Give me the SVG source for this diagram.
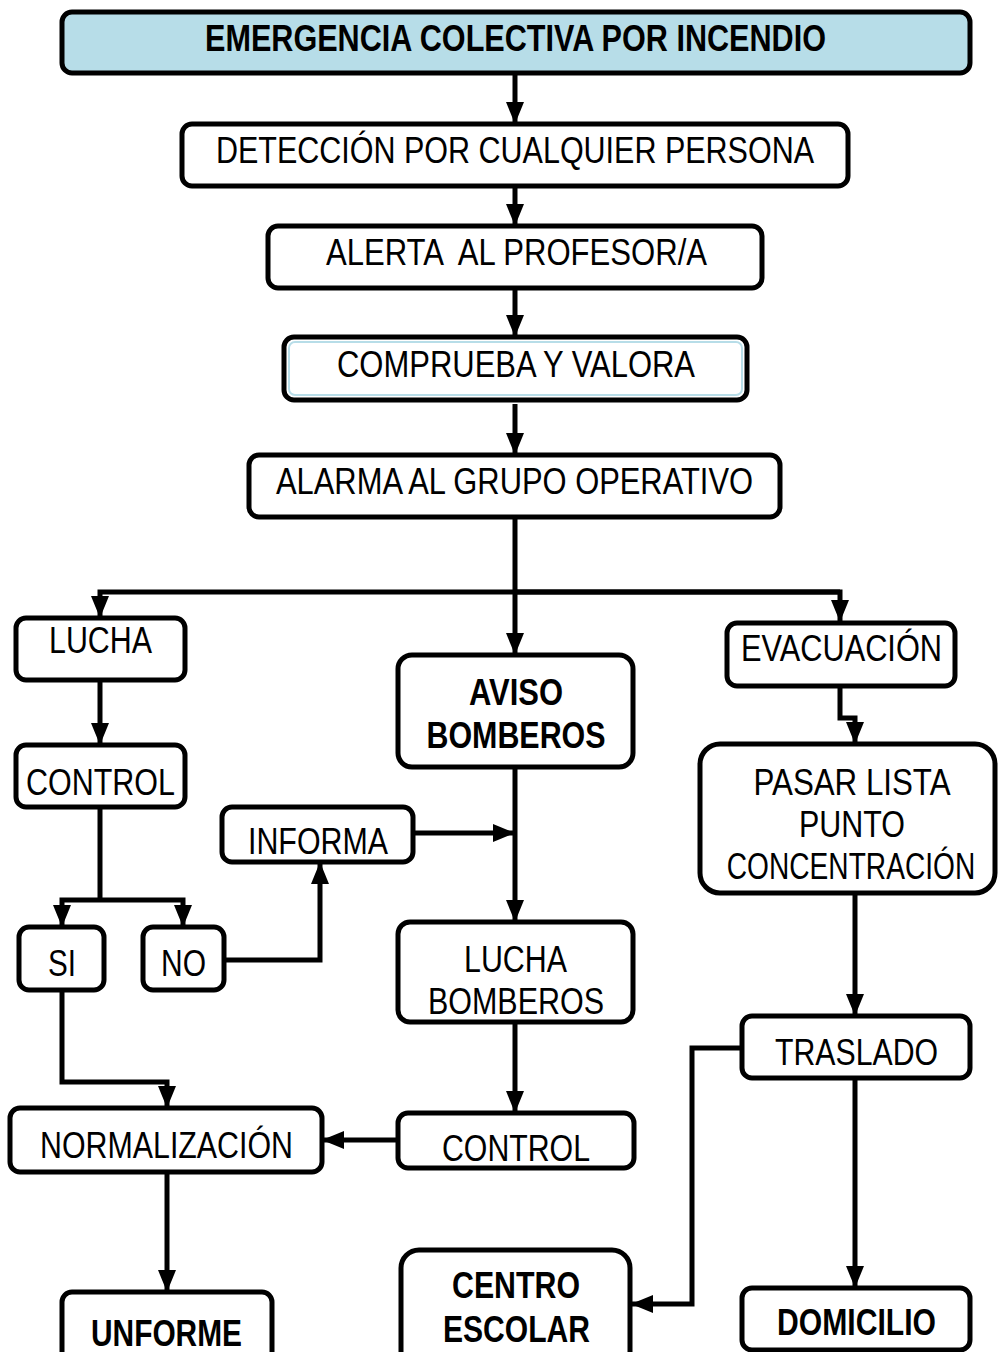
<svg xmlns="http://www.w3.org/2000/svg" width="998" height="1352" viewBox="0 0 998 1352">
<style>
.box{fill:#fff;stroke:#000;stroke-width:5}
.t{font-family:"Liberation Sans Narrow","Liberation Sans",Arial,sans-serif;font-size:37px;fill:#000;text-anchor:middle}
.b{font-weight:bold;font-size:36px}
.ln{fill:none;stroke:#000;stroke-width:5}
</style>
<defs>
<marker id="ah" viewBox="0 0 22 18" refX="22" refY="9" markerWidth="22" markerHeight="18" markerUnits="userSpaceOnUse" orient="auto">
<path d="M0,0 L22,9 L0,18 z" fill="#000"/>
</marker>
</defs>
<rect width="998" height="1352" fill="#fff"/>
<g id="connectors">
<path class="ln" d="M515,73 V124" marker-end="url(#ah)"/>
<path class="ln" d="M515,186 V226" marker-end="url(#ah)"/>
<path class="ln" d="M515,288 V337" marker-end="url(#ah)"/>
<path class="ln" d="M515,404 V455" marker-end="url(#ah)"/>
<path class="ln" d="M515,517 V655" marker-end="url(#ah)"/>
<path class="ln" d="M840,592 H100 V618" marker-end="url(#ah)"/>
<path class="ln" d="M515,592 H840 V622" marker-end="url(#ah)"/>
<path class="ln" d="M100,680 V745" marker-end="url(#ah)"/>
<path class="ln" d="M100,807 V900"/>
<path class="ln" d="M100,900 H62 V927" marker-end="url(#ah)"/>
<path class="ln" d="M100,900 H183 V927" marker-end="url(#ah)"/>
<path class="ln" d="M224,960 H320 V862" marker-end="url(#ah)"/>
<path class="ln" d="M413,833 H515" marker-end="url(#ah)"/>
<path class="ln" d="M515,767 V922" marker-end="url(#ah)"/>
<path class="ln" d="M515,1022 V1113" marker-end="url(#ah)"/>
<path class="ln" d="M398,1140 H322" marker-end="url(#ah)"/>
<path class="ln" d="M62,990 V1082 H167 V1108" marker-end="url(#ah)"/>
<path class="ln" d="M167,1172 V1292" marker-end="url(#ah)"/>
<path class="ln" d="M840,686 V718 H855 V744" marker-end="url(#ah)"/>
<path class="ln" d="M855,893 V1016" marker-end="url(#ah)"/>
<path class="ln" d="M855,1078 V1288" marker-end="url(#ah)"/>
<path class="ln" d="M742,1048 H692 V1304 H631" marker-end="url(#ah)"/>
</g>
<g id="n-titulo">
<rect x="62" y="12" width="908" height="61" rx="10" fill="#b7dde8" stroke="#000" stroke-width="5"/>
<text class="t b" x="515.5" y="51" textLength="621" lengthAdjust="spacingAndGlyphs">EMERGENCIA COLECTIVA POR INCENDIO</text>
</g>
<g id="n-deteccion">
<rect class="box" x="182" y="124" width="666" height="62" rx="10"/>
<text class="t" x="515" y="163" textLength="598" lengthAdjust="spacingAndGlyphs">DETECCIÓN POR CUALQUIER PERSONA</text>
</g>
<g id="n-alerta">
<rect class="box" x="268" y="226" width="494" height="62" rx="10"/>
<text class="t" x="516.5" y="265" textLength="381" lengthAdjust="spacingAndGlyphs" xml:space="preserve">ALERTA  AL PROFESOR/A</text>
</g>
<g id="n-comprueba">
<rect class="box" x="284" y="337" width="463" height="63" rx="10"/>
<rect x="289" y="342" width="453" height="53" rx="6" fill="none" stroke="#b7dde8" stroke-width="2"/>
<text class="t" x="516" y="377" textLength="358" lengthAdjust="spacingAndGlyphs">COMPRUEBA Y VALORA</text>
</g>
<g id="n-alarma">
<rect class="box" x="249" y="455" width="531" height="62" rx="10"/>
<text class="t" x="514.5" y="494" textLength="477" lengthAdjust="spacingAndGlyphs">ALARMA AL GRUPO OPERATIVO</text>
</g>
<g id="n-lucha">
<rect class="box" x="16" y="618" width="169" height="62" rx="10"/>
<text class="t" x="100.5" y="653" textLength="103" lengthAdjust="spacingAndGlyphs">LUCHA</text>
</g>
<g id="n-aviso">
<rect class="box" x="398" y="655" width="235" height="112" rx="14"/>
<text class="t b" x="516" y="705" textLength="94" lengthAdjust="spacingAndGlyphs">AVISO</text>
<text class="t b" x="516" y="748" textLength="179" lengthAdjust="spacingAndGlyphs">BOMBEROS</text>
</g>
<g id="n-evacuacion">
<rect class="box" x="727" y="623" width="228" height="63" rx="10"/>
<text class="t" x="841.5" y="661" textLength="201" lengthAdjust="spacingAndGlyphs">EVACUACIÓN</text>
</g>
<g id="n-control1">
<rect class="box" x="16" y="745" width="169" height="62" rx="10"/>
<text class="t" x="100.5" y="795" textLength="149" lengthAdjust="spacingAndGlyphs">CONTROL</text>
</g>
<g id="n-informa">
<rect class="box" x="222" y="807" width="191" height="55" rx="10"/>
<text class="t" x="318" y="854" textLength="140" lengthAdjust="spacingAndGlyphs">INFORMA</text>
</g>
<g id="n-si">
<rect class="box" x="19" y="927" width="85" height="63" rx="10"/>
<text class="t" x="62" y="976" textLength="28" lengthAdjust="spacingAndGlyphs">SI</text>
</g>
<g id="n-no">
<rect class="box" x="143" y="927" width="81" height="63" rx="10"/>
<text class="t" x="183.5" y="976" textLength="45" lengthAdjust="spacingAndGlyphs">NO</text>
</g>
<g id="n-lucha-bomberos">
<rect class="box" x="398" y="922" width="235" height="100" rx="12"/>
<text class="t" x="515.5" y="972" textLength="103" lengthAdjust="spacingAndGlyphs">LUCHA</text>
<text class="t" x="516" y="1014" textLength="176" lengthAdjust="spacingAndGlyphs">BOMBEROS</text>
</g>
<g id="n-control2">
<rect class="box" x="398" y="1113" width="236" height="55" rx="10"/>
<text class="t" x="516" y="1161" textLength="148" lengthAdjust="spacingAndGlyphs">CONTROL</text>
</g>
<g id="n-normalizacion">
<rect class="box" x="10" y="1108" width="312" height="64" rx="10"/>
<text class="t" x="166.5" y="1158" textLength="253" lengthAdjust="spacingAndGlyphs">NORMALIZACIÓN</text>
</g>
<g id="n-unforme">
<rect class="box" x="62" y="1292" width="210" height="70" rx="10"/>
<text class="t b" x="166.5" y="1346" textLength="151" lengthAdjust="spacingAndGlyphs">UNFORME</text>
</g>
<g id="n-pasar-lista">
<rect class="box" x="700" y="744" width="295" height="149" rx="20"/>
<text class="t" x="852" y="795" textLength="197" lengthAdjust="spacingAndGlyphs">PASAR LISTA</text>
<text class="t" x="852" y="837" textLength="106" lengthAdjust="spacingAndGlyphs">PUNTO</text>
<text class="t" transform="translate(851,879) scale(0.76,1)" x="0" y="0">CONCENTRACIÓN</text>
</g>
<g id="n-traslado">
<rect class="box" x="742" y="1016" width="228" height="62" rx="10"/>
<text class="t" x="856.5" y="1065" textLength="163" lengthAdjust="spacingAndGlyphs">TRASLADO</text>
</g>
<g id="n-centro-escolar">
<rect class="box" x="401" y="1250" width="229" height="120" rx="18"/>
<text class="t b" x="516" y="1298" textLength="128" lengthAdjust="spacingAndGlyphs">CENTRO</text>
<text class="t b" x="516.5" y="1342" textLength="147" lengthAdjust="spacingAndGlyphs">ESCOLAR</text>
</g>
<g id="n-domicilio">
<rect class="box" x="742" y="1288" width="228" height="62" rx="10"/>
<text class="t b" x="856.5" y="1335" textLength="159" lengthAdjust="spacingAndGlyphs">DOMICILIO</text>
</g>
</svg>
